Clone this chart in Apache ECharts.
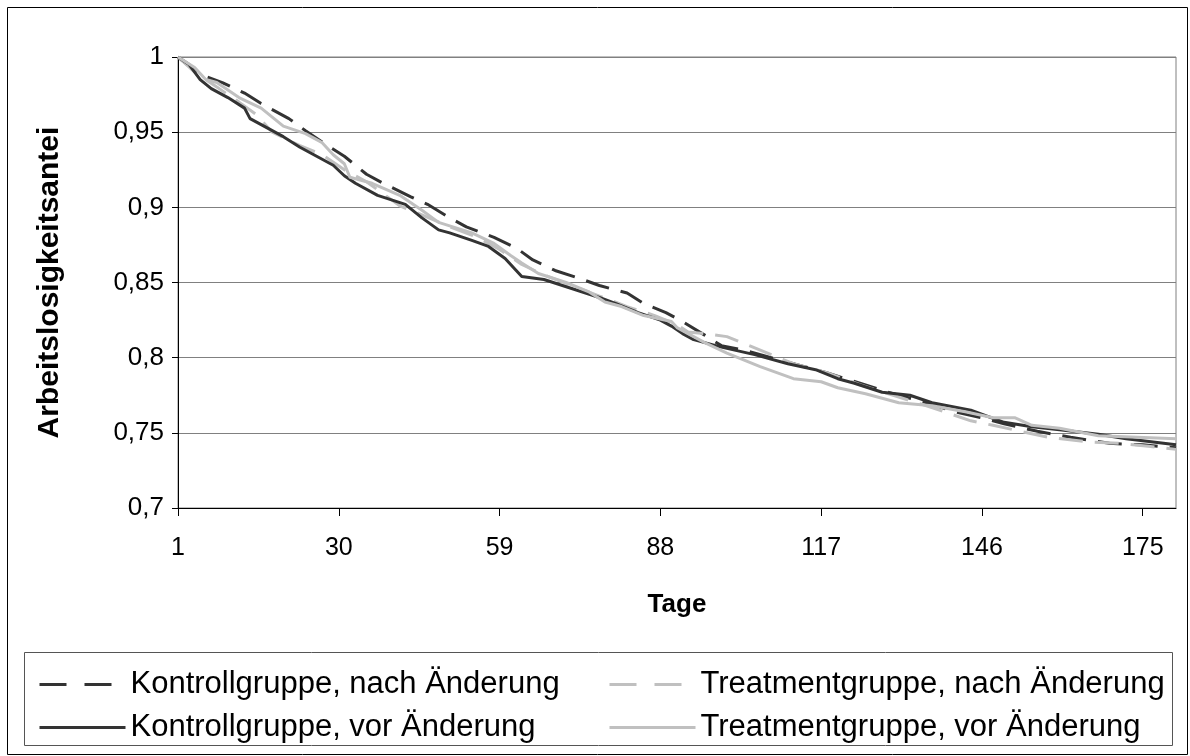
<!DOCTYPE html>
<html>
<head>
<meta charset="utf-8">
<script src="https://cdn.jsdelivr.net/npm/echarts@6/dist/echarts.min.js"></script>
<style>
html,body{margin:0;padding:0;background:#fff;}
#c{width:1190px;height:756px;}
</style>
</head>
<body>
<div id="c"></div>
<script>
// categories: days 1..181
const days = Array.from({length: 181}, (_, i) => String(i + 1));
const xTickLabels = ['1', '30', '59', '88', '117', '146', '175'];

const seriesNames = [
  'Kontrollgruppe, nach Änderung',
  'Treatmentgruppe, nach Änderung',
  'Kontrollgruppe, vor Änderung',
  'Treatmentgruppe, vor Änderung'
];

// Kontrollgruppe, nach Änderung (dark dashed)
const knDays = [1,3,6,9,13,16,21,24,28,31,35,38,43,46,50,53,58,62,65,69,74,77,82,85,89,92,96,99,103,108,114,118,124,130,136,141,146,150,156,162,169,175,181];
const knVals = [1.000,0.994,0.987,0.983,0.976,0.969,0.959,0.951,0.941,0.934,0.922,0.916,0.907,0.902,0.893,0.887,0.880,0.873,0.865,0.858,0.852,0.848,0.843,0.836,0.830,0.824,0.815,0.808,0.805,0.800,0.794,0.790,0.783,0.776,0.770,0.764,0.760,0.756,0.751,0.747,0.743,0.742,0.740];

// Treatmentgruppe, nach Änderung (light dashed)
const tnDays = [1,4,8,12,15,18,23,27,31,35,41,45,50,55,59,63,67,72,77,82,87,91,93,96,100,104,108,112,118,124,130,136,140,144,148,153,158,165,171,176,181];
const tnVals = [1.000,0.990,0.980,0.970,0.962,0.950,0.941,0.935,0.925,0.917,0.901,0.895,0.887,0.880,0.872,0.862,0.855,0.848,0.841,0.834,0.828,0.822,0.817,0.816,0.814,0.808,0.802,0.796,0.790,0.782,0.775,0.768,0.763,0.758,0.755,0.751,0.747,0.744,0.743,0.741,0.739];

// Kontrollgruppe, vor Änderung (dark solid)
const kvDays = [1,3,4,5,7,10,13,14,17,20,23,25,29,31,33,37,42,45,48,50,54,57,60,62,63,67,72,77,80,84,88,90,92,94,99,105,111,116,120,123,128,133,137,144,150,155,160,167,172,181];
const kvVals = [1.000,0.995,0.990,0.985,0.979,0.973,0.966,0.959,0.953,0.947,0.940,0.936,0.928,0.921,0.916,0.908,0.902,0.893,0.885,0.883,0.878,0.874,0.866,0.858,0.854,0.852,0.846,0.840,0.836,0.830,0.825,0.821,0.816,0.812,0.807,0.802,0.796,0.792,0.786,0.783,0.777,0.775,0.770,0.765,0.757,0.754,0.752,0.749,0.746,0.742];

// Treatmentgruppe, vor Änderung (light solid)
const tvDays = [1,4,6,8,12,16,18,20,24,27,29,31,32,36,41,45,48,54,58,61,63,66,71,75,78,81,85,90,91,96,100,106,112,117,120,125,131,137,143,148,152,155,160,167,174,181];
const tvVals = [1.000,0.993,0.985,0.983,0.973,0.966,0.960,0.954,0.949,0.943,0.935,0.929,0.920,0.916,0.908,0.898,0.890,0.883,0.876,0.868,0.863,0.856,0.850,0.844,0.837,0.834,0.828,0.824,0.820,0.810,0.803,0.794,0.786,0.784,0.780,0.776,0.770,0.768,0.764,0.760,0.760,0.755,0.753,0.748,0.747,0.746];

const DARK = '#333333';
const LIGHT = '#c0c0c0';
const FONT = 'Liberation Sans, Arial, sans-serif';

function pairs(d, v) { return d.map((x, i) => [String(x), v[i]]); }

function mkSeries(name, d, v, color, dashed) {
  return {
    name: name,
    type: 'line',
    data: pairs(d, v),
    symbol: 'none',
    showSymbol: false,
    smooth: false,
    animation: false,
    lineStyle: { color: color, width: 3, type: dashed ? [24, 12] : 'solid' },
    itemStyle: { color: color }
  };
}

const chart = echarts.init(document.getElementById('c'), null, { renderer: 'canvas' });

function mkLegend(left, dashedName, solidName, color) {
  return {
    orient: 'vertical',
    left: left,
    top: 668,
    padding: 0,
    itemWidth: 86,
    itemHeight: 14,
    itemGap: 10,
    selectedMode: false,
    itemStyle: { opacity: 0 },
    lineStyle: { width: 3 },
    textStyle: { fontFamily: FONT, fontSize: 31, color: '#000', lineHeight: 33 },
    data: [
      { name: dashedName, lineStyle: { width: 3, color: color, type: [27, 18] } },
      { name: solidName, lineStyle: { width: 3, color: color, type: 'solid' } }
    ]
  };
}

chart.setOption({
  animation: false,
  backgroundColor: '#fff',
  textStyle: { fontFamily: FONT },
  graphic: [
    { type: 'rect', shape: { x: 7.5, y: 7.5, width: 1180, height: 747 }, style: { fill: 'none', stroke: '#000', lineWidth: 1 }, silent: true, z: -1 },
    { type: 'rect', shape: { x: 24.5, y: 652.5, width: 1148, height: 93 }, style: { fill: 'none', stroke: '#555', lineWidth: 1 }, silent: true }
  ],
  grid: { left: 178, top: 57, right: 14, bottom: 248, show: true, borderColor: '#808080', borderWidth: 1, containLabel: false },
  legend: [
    mkLegend(38, seriesNames[0], seriesNames[2], DARK),
    mkLegend(608, seriesNames[1], seriesNames[3], LIGHT)
  ],
  xAxis: {
    type: 'category',
    data: days,
    boundaryGap: false,
    name: 'Tage',
    nameLocation: 'middle',
    nameGap: 84,
    nameTextStyle: { fontFamily: FONT, fontSize: 26, fontWeight: 'bold', color: '#000' },
    axisLine: { lineStyle: { color: '#000', width: 1 } },
    axisTick: { show: true, interval: 28, length: 8, inside: false, lineStyle: { color: '#000' } },
    axisLabel: {
      interval: 28, margin: 28, fontFamily: FONT, fontSize: 25, color: '#000',
      formatter: (v) => xTickLabels.includes(v) ? v : ''
    },
    splitLine: { show: false }
  },
  yAxis: {
    type: 'value',
    min: 0.7, max: 1, interval: 0.05,
    name: 'Arbeitslosigkeitsantei',
    nameLocation: 'middle',
    nameGap: 113,
    nameRotate: 90,
    nameTextStyle: { fontFamily: FONT, fontSize: 30, fontWeight: 'bold', color: '#000' },
    axisLine: { show: true, lineStyle: { color: '#000', width: 1 } },
    axisTick: { show: true, length: 6, lineStyle: { color: '#000' } },
    axisLabel: {
      margin: 14, fontFamily: FONT, fontSize: 26, color: '#000',
      formatter: (v) => String(Math.round(v * 100) / 100).replace('.', ',')
    },
    splitLine: { show: true, lineStyle: { color: '#808080', width: 1 } }
  },
  series: [
    mkSeries(seriesNames[0], knDays, knVals, DARK, true),
    mkSeries(seriesNames[1], tnDays, tnVals, LIGHT, true),
    mkSeries(seriesNames[2], kvDays, kvVals, DARK, false),
    mkSeries(seriesNames[3], tvDays, tvVals, LIGHT, false)
  ]
});
</script>
</body>
</html>
